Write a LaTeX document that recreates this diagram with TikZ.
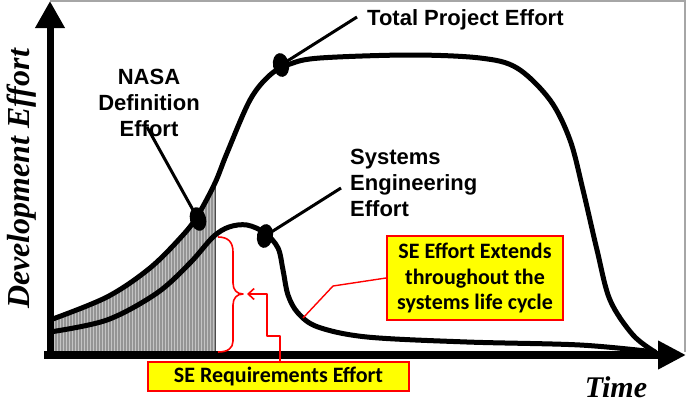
\documentclass[tikz,border=0pt]{standalone}
\usepackage{fontspec}
\usetikzlibrary{arrows.meta,patterns,shapes.geometric}
\newfontfamily\arialfam{Liberation Sans}
\newfontfamily\calfam{Carlito}
\newfontfamily\timesfam{Liberation Serif}
\definecolor{boxyellow}{HTML}{FFFF00}
\definecolor{boxred}{HTML}{FF0000}
\definecolor{shadegray}{HTML}{949494}
\definecolor{stripegray}{HTML}{C4C4C4}
\begin{document}
\begin{tikzpicture}[x=1pt,y=-1pt,
  curve/.style={line width=5pt, line cap=round, line join=round},
  leader/.style={line width=3pt},
  dotmark/.style={ellipse, fill=black, minimum width=16pt, minimum height=24pt, inner sep=0pt},
  lbl/.style={font=\arialfam\bfseries\fontsize{22}{26}\selectfont, inner sep=0pt},
  ybox/.style={draw=boxred, fill=boxyellow, line width=2pt, font=\calfam\bfseries\fontsize{22}{25.5}\selectfont, align=center, inner sep=0pt},
  redline/.style={draw=boxred, line width=1.6pt, line join=round},
  axisline/.style={line width=7pt}]
\useasboundingbox (0,0) rectangle (687,402);
\fill[white] (0,0) rectangle (687,402);

% shaded region under total curve
\begin{scope}
  \clip (50,0) rectangle (215,355);
  \fill[shadegray, postaction={pattern=vertical lines, pattern color=stripegray}]
    plot[smooth, tension=0.55] coordinates {(50,320) (107,297) (150,268) (183,235) (198,215) (215,183) (227,153) (250,100) (270,75) (290,64) (320,58) (410,55) (480,58) (517,68) (550,100) (570,140) (583,190) (597,250) (610,300) (633,335) (655,350)}
    -- (655,356) -- (50,356) -- cycle;
\end{scope}
\draw[gray!60!black, line width=0.8pt] (215,183) -- (215,355);

% frame
\draw[gray!70, line width=1.5pt] (50,1) -- (685,1) -- (685,352);

% total project effort curve
\draw[curve] plot[smooth, tension=0.55] coordinates {(50,320) (107,297) (150,268) (183,235) (198,215) (215,183) (227,153) (250,100) (270,75) (290,64) (320,58) (410,55) (480,58) (517,68) (550,100) (570,140) (583,190) (597,250) (610,300) (633,335) (655,352)};

% systems engineering effort curve
\draw[curve] plot[smooth, tension=0.55] coordinates {(50,332) (107,320) (157,293) (190,263) (213,237) (229,227) (247,225) (265,233) (278,248) (283,270) (288,295) (298,313) (318,327) (367,337) (467,342) (580,345) (655,352)};

% axes
\draw[axisline, -{Triangle[length=27pt,width=28pt]}] (50,359) -- (50,1);
\draw[axisline, line width=8pt, -{Triangle[length=28pt,width=27pt]}] (44,355) -- (686,355);

% dots
\node[dotmark, rotate=15] (d1) at (198,219) {};
\node[dotmark, rotate=-10] (d2) at (265,236) {};
\node[dotmark, rotate=10] (d3) at (281,65) {};

% labels
\node[lbl, anchor=base west] (ttot) at (367,25) {Total Project Effort};
\node[lbl, align=center] (nasa) at (149,103) {NASA\\Definition\\Effort};
\node[lbl, align=left, anchor=west] (sys) at (350,183) {Systems\\Engineering\\Effort};

\coordinate (tpe) at (357,17);
\coordinate (nde) at (147,127);
\coordinate (see) at (341,188);
\draw[leader] (tpe) -- (d3.center);
\draw[leader] (nde) -- (d1.center);
\draw[leader] (see) -- (d2.center);

% axis labels
\node[font=\timesfam\bfseries\itshape\fontsize{32}{32}\selectfont, rotate=90, inner sep=0pt] (ylab) at (22,179) {Development Effort};
\node[font=\timesfam\bfseries\itshape\fontsize{30}{30}\selectfont, inner sep=0pt, anchor=base] (xlab) at (616,397) {Time};

% yellow boxes
\node[ybox, minimum width=176pt, minimum height=84pt] (sebox) at (475,278) {SE Effort Extends\\throughout the\\systems life cycle};
\node[ybox, minimum width=261pt, minimum height=29pt] (req) at (278.5,376.5) {SE Requirements Effort};

% red brace
\coordinate (bt) at (243,294);
\draw[redline] (218,237) .. controls (228,237) and (233,242) .. (233,252) -- (233,283) .. controls (233,290) and (237,294) .. (bt) .. controls (237,294) and (233,298) .. (233,305) -- (233,341) .. controls (233,348) and (228,352) .. (218,352);

% red connectors
\coordinate (bta) at (247,294);
\draw[redline, -{Straight Barb[length=6pt,width=11pt]}] ([xshift=1.5pt]req.north) -- ++(0,-25) -- ++(-13,0) |- (bta);
\coordinate (securve) at (303,318);
\draw[redline, line width=1.4pt] (sebox.west) -- (333,286) -- (securve);
\end{tikzpicture}
\end{document}
